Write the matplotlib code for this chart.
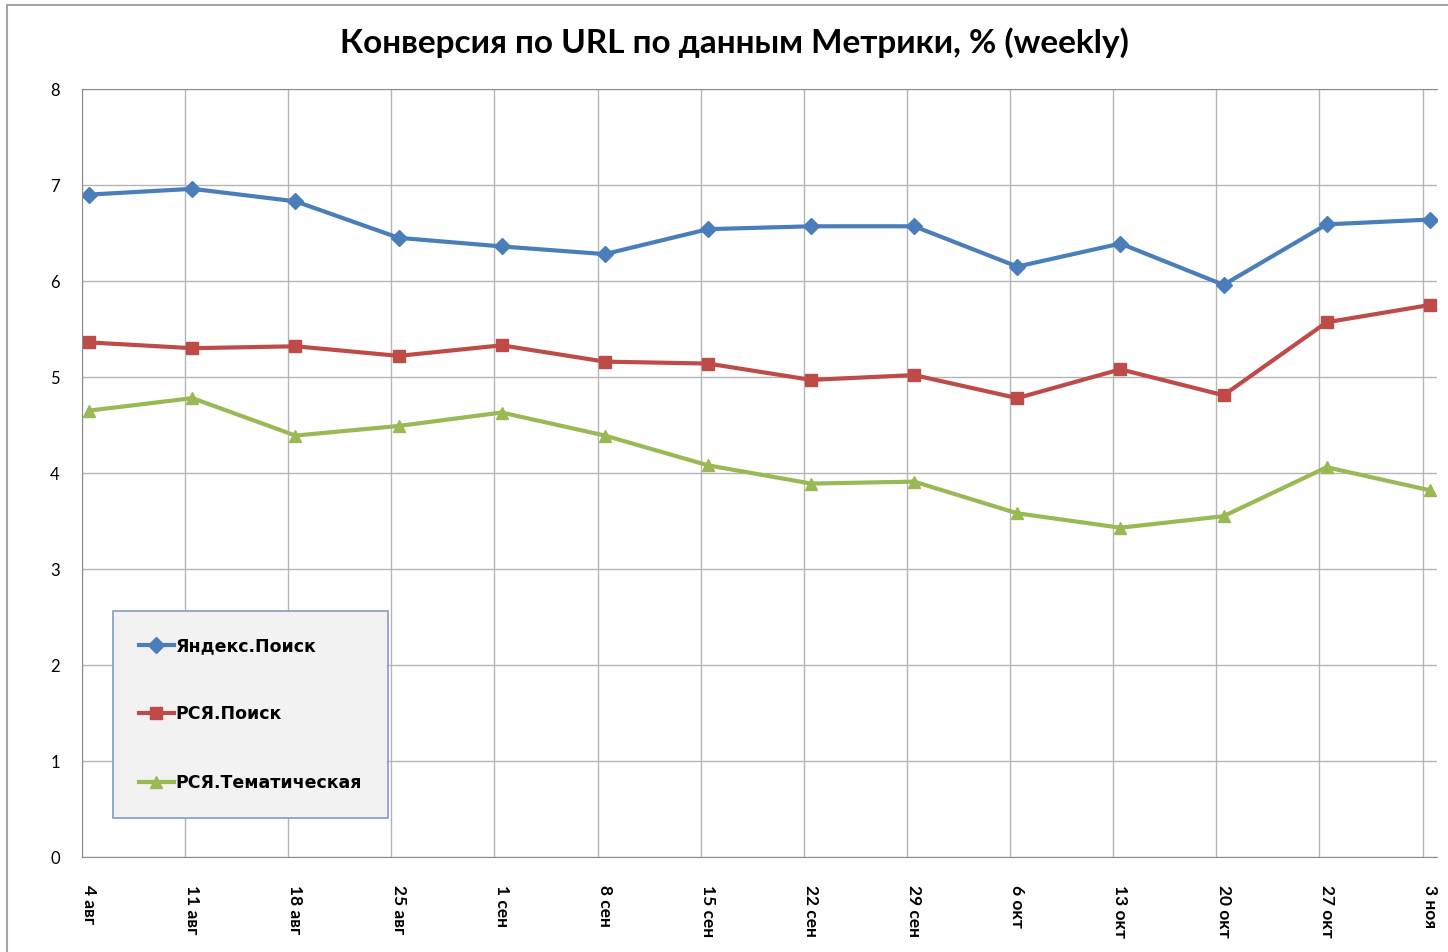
import matplotlib.pyplot as plt
from matplotlib.patches import Rectangle

# weekly conversion by URL, %
weeks = ['4 авг', '11 авг', '18 авг', '25 авг', '1 сен', '8 сен', '15 сен',
         '22 сен', '29 сен', '6 окт', '13 окт', '20 окт', '27 окт', '3 ноя']
yandex_search = [6.90, 6.96, 6.83, 6.45, 6.36, 6.28, 6.54, 6.57, 6.57, 6.15, 6.39, 5.96, 6.59, 6.64]
rsya_search = [5.36, 5.30, 5.32, 5.22, 5.33, 5.16, 5.14, 4.97, 5.02, 4.78, 5.08, 4.81, 5.57, 5.75]
rsya_theme = [4.65, 4.78, 4.39, 4.49, 4.63, 4.39, 4.08, 3.89, 3.91, 3.58, 3.43, 3.55, 4.06, 3.82]

plt.rcParams['font.family'] = ['Lato', 'DejaVu Sans']

fig = plt.figure(figsize=(14.48, 9.52), dpi=100)
ax = fig.add_axes([82 / 1448, 1 - 857 / 952, (1437 - 82) / 1448, (857 - 89) / 952])

# outer chart border (only left/top visible in the crop)
fig.patches.append(Rectangle((7 / 1448, -0.1), 1.1, 1 - 5 / 952 + 0.1, transform=fig.transFigure,
                             fill=False, edgecolor='#a6a6a6', linewidth=1.5))

x = list(range(len(weeks)))
ax.plot(x, yandex_search, color='#4a7ebb', lw=3, marker='D', ms=8, label='Яндекс.Поиск')
ax.plot(x, rsya_search, color='#be4b48', lw=3, marker='s', ms=9, label='РСЯ.Поиск')
ax.plot(x, rsya_theme, color='#98b954', lw=3, marker='^', ms=9, label='РСЯ.Тематическая')

ax.set_xlim(-0.07, 13.07)
ax.set_ylim(0, 8)
ax.set_yticks(range(0, 9))
ax.set_xticks(x)
# vertical gridlines sit a little left of the points in the original
ax.set_xticks([i - 0.07 for i in x], minor=True)
ax.set_xticklabels(weeks, rotation=-90, fontweight='bold', fontsize=12.5, va='top')
ax.tick_params(axis='both', which='both', length=0)
ax.tick_params(axis='y', pad=16, labelsize=12)
ax.tick_params(axis='x', pad=20)
ax.grid(True, axis='y', color='#b4b4b4', lw=1)
ax.grid(True, axis='x', which='minor', color='#b4b4b4', lw=1)
ax.set_axisbelow(True)
for side in ['left', 'bottom', 'top']:
    ax.spines[side].set_color('#8c8c8c')
ax.spines['right'].set_visible(False)

fig.text(734 / 1448, 1 - 43 / 952, 'Конверсия по URL по данным Метрики, % (weekly)',
         ha='center', va='center', fontsize=24, fontweight='bold')

leg = ax.legend(loc='upper left', bbox_to_anchor=(113 / 1448, 1 - 611 / 952),
                bbox_transform=fig.transFigure,
                prop={'family': 'DejaVu Sans', 'weight': 'bold', 'size': 12.5},
                labelspacing=2.9, handlelength=2.0, handletextpad=0.1,
                borderpad=1.5, borderaxespad=0, fancybox=False, framealpha=1)
leg.get_frame().set_facecolor('#f2f2f2')
leg.get_frame().set_edgecolor('#7e9cc6')
leg.get_frame().set_linewidth(1.2)

fig.savefig('out.png', dpi=100)
